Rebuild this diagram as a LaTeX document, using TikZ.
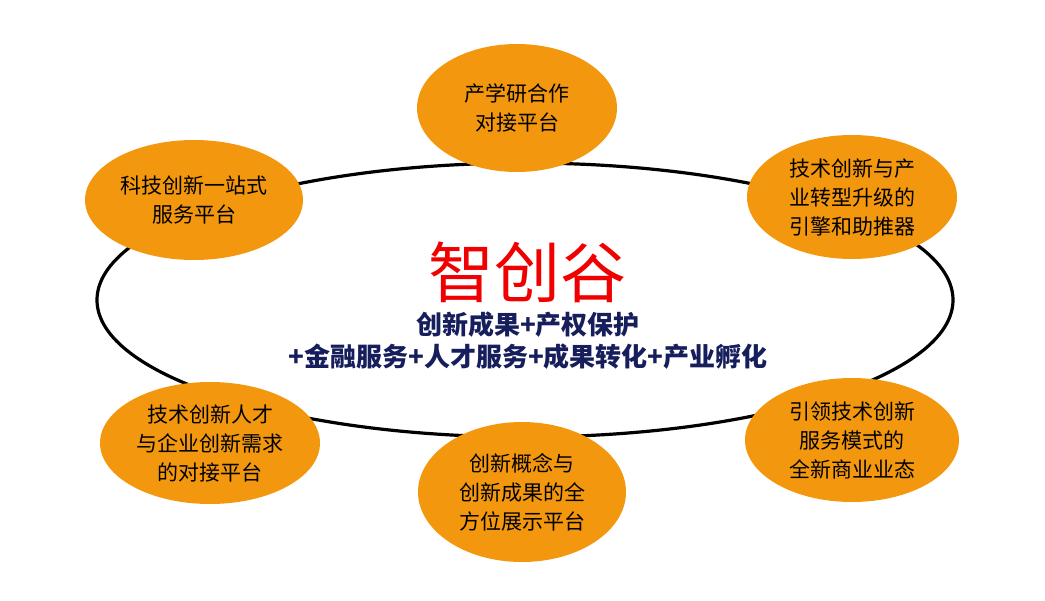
\documentclass[tikz,border=0pt]{standalone}
\usepackage{fontspec}
\setmainfont{Noto Sans CJK SC}
\usetikzlibrary{shapes.geometric}
\definecolor{naranjaZ}{RGB}{243,152,14}
\definecolor{rojoTit}{RGB}{240,0,0}
\definecolor{azulSub}{RGB}{22,30,92}

\begin{document}
\begin{tikzpicture}[
  x=0.75pt, y=-0.75pt,
  every node/.style = {align=center},
  valle/.style = {ellipse, draw=black, line width=2.4pt, inner sep=0pt},
  plat/.style  = {ellipse, fill=naranjaZ, inner sep=0pt,
                  font=\fontsize{15.75}{21.75}\selectfont},
  tit/.style   = {text=rojoTit, font=\fontsize{49.5}{50}\selectfont},
  sub/.style   = {text=azulSub, font=\bfseries\fontsize{19.5}{24}\selectfont},
]
\useasboundingbox (0,0) rectangle (1045,600);

% ── Elipse central ───────────────────────────────────────────
\node[valle, minimum width=642pt, minimum height=205.5pt] (V) at (525,300) {};

% ── Plataformas ──────────────────────────────────────────────
\node[plat, minimum width=150pt,   minimum height=96pt]   (P1) at (517,108) {产学研合作\\对接平台};
\node[plat, minimum width=163.5pt, minimum height=90pt]   (P2) at (194,200) {科技创新一站式\\服务平台};
\node[plat, minimum width=157.5pt, minimum height=93pt]   (P3) at (852,197) {技术创新与产\\业转型升级的\\引擎和助推器};
\node[plat, minimum width=165pt,   minimum height=91.5pt] (P4) at (210,443) {技术创新人才\\与企业创新需求\\的对接平台};
\node[plat, minimum width=156pt,   minimum height=105pt]  (P5) at (522,492) {创新概念与\\创新成果的全\\方位展示平台};
\node[plat, minimum width=160.5pt, minimum height=93pt]   (P6) at (852,440) {引领技术创新\\服务模式的\\全新商业业态};

% ── Título ───────────────────────────────────────────────────
\node[tit] (T) at (527,272) {智创谷};
\node[sub] (S) at (528,341) {创新成果+产权保护\\+金融服务+人才服务+成果转化+产业孵化};

\end{tikzpicture}
\end{document}
